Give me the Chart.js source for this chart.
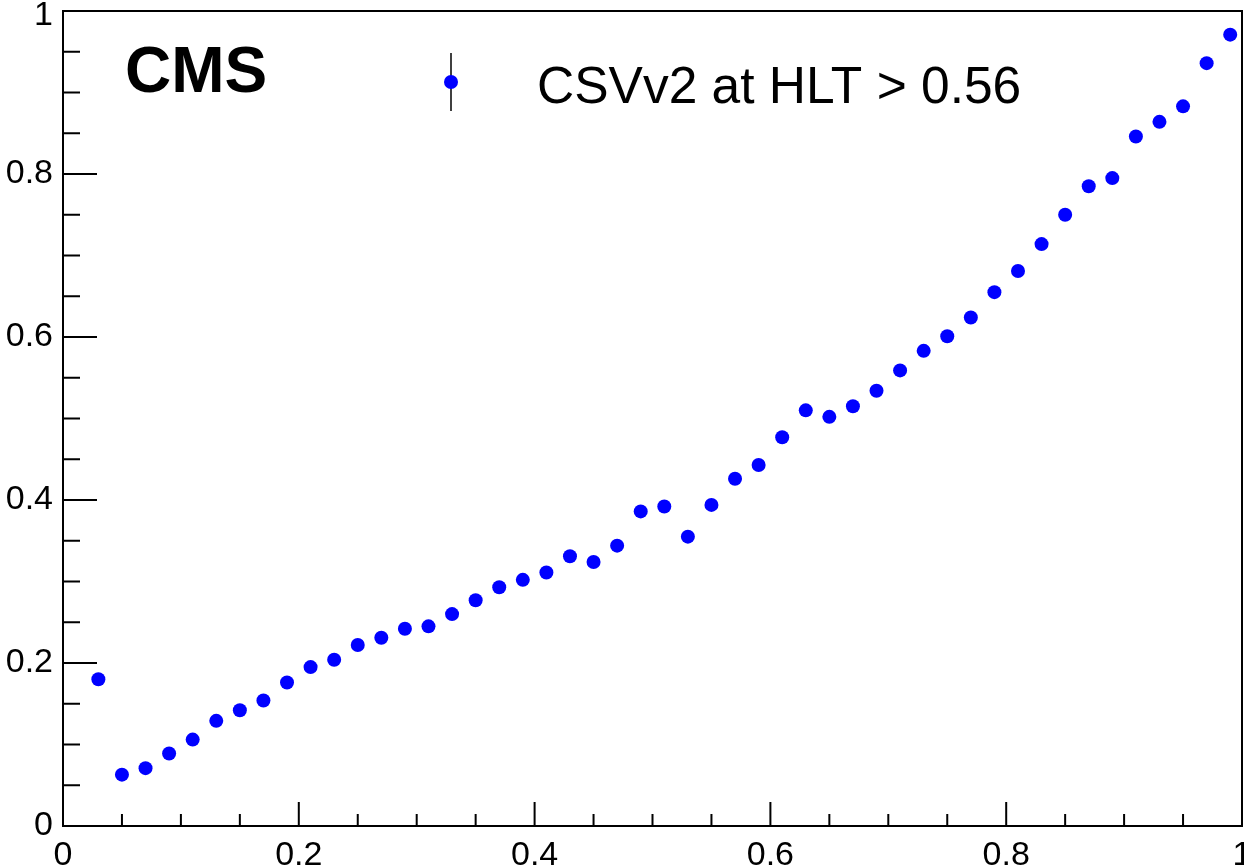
<!DOCTYPE html>
<html>
<head>
<meta charset="utf-8">
<script src="https://cdn.jsdelivr.net/npm/chart.js@4"></script>
<style>
  html, body { margin: 0; padding: 0; background: #fff; }
</style>
</head>
<body>
<canvas id="chart" width="1244" height="868"></canvas>
<script>
// bin centres and efficiency
const binCenters = [
  0.03, 0.05, 0.07, 0.09, 0.11, 0.13, 0.15, 0.17, 0.19, 0.21,
  0.23, 0.25, 0.27, 0.29, 0.31, 0.33, 0.35, 0.37, 0.39, 0.41,
  0.43, 0.45, 0.47, 0.49, 0.51, 0.53, 0.55, 0.57, 0.59, 0.61,
  0.63, 0.65, 0.67, 0.69, 0.71, 0.73, 0.75, 0.77, 0.79, 0.81,
  0.83, 0.85, 0.87, 0.89, 0.91, 0.93, 0.95, 0.97, 0.99
];
const efficiency = [
  0.180, 0.063, 0.071, 0.089, 0.106, 0.129, 0.142, 0.154, 0.176, 0.195,
  0.204, 0.222, 0.231, 0.242, 0.245, 0.260, 0.277, 0.293, 0.302, 0.311,
  0.331, 0.324, 0.344, 0.386, 0.392, 0.355, 0.394, 0.426, 0.443, 0.477,
  0.510, 0.502, 0.515, 0.534, 0.559, 0.583, 0.601, 0.624, 0.655, 0.681,
  0.714, 0.750, 0.785, 0.795, 0.846, 0.864, 0.883, 0.936, 0.971
];
const tickLabels = ["0", "0.2", "0.4", "0.6", "0.8", "1"];
const legendText = "CSVv2 at HLT > 0.56";
const cmsText = "CMS";

const FONT = "'Liberation Sans', Arial, Helvetica, sans-serif";

const rootStyle = {
  id: "rootStyle",
  afterDraw(chart) {
    const ctx = chart.ctx;
    const a = chart.chartArea;
    const x = chart.scales.x;
    const y = chart.scales.y;
    ctx.save();
    ctx.strokeStyle = "#000";
    ctx.lineWidth = 2;
    ctx.strokeRect(a.left, a.top, a.right - a.left, a.bottom - a.top);

    // inward ticks like ROOT
    ctx.beginPath();
    for (let i = 0; i <= 20; i++) {
      const v = i / 20;
      const px = x.getPixelForValue(v);
      const py = y.getPixelForValue(v);
      const major = i % 4 === 0;
      ctx.moveTo(px, a.bottom);
      ctx.lineTo(px, a.bottom - (major ? 24 : 12));
      ctx.moveTo(a.left, py);
      ctx.lineTo(a.left + (major ? 34 : 17), py);
    }
    ctx.stroke();

    // top y label is pushed down to stay inside the canvas, as ROOT does
    ctx.fillStyle = "#000";
    ctx.font = "34px " + FONT;
    ctx.textAlign = "right";
    ctx.textBaseline = "middle";
    ctx.fillText(tickLabels[tickLabels.length - 1], a.left - 10, y.getPixelForValue(1) + 5);

    // CMS label
    ctx.textBaseline = "alphabetic";
    ctx.textAlign = "left";
    ctx.font = "bold 64px " + FONT;
    ctx.fillText(cmsText, 125, 92);

    // legend entry: marker with error bar
    ctx.lineWidth = 1.5;
    ctx.beginPath();
    ctx.moveTo(451, 53);
    ctx.lineTo(451, 111);
    ctx.stroke();
    ctx.fillStyle = "#0000ff";
    ctx.beginPath();
    ctx.arc(451, 82, 7, 0, Math.PI * 2);
    ctx.fill();
    ctx.fillStyle = "#000";
    ctx.font = "51.5px " + FONT;
    ctx.fillText(legendText, 537, 103);
    ctx.restore();
  }
};

const ctx = document.getElementById("chart").getContext("2d");

const chart = new Chart(ctx, {
  type: "scatter",
  data: {
    datasets: [{
      label: legendText,
      data: binCenters.map((v, i) => ({ x: v, y: efficiency[i] })),
      pointRadius: 7,
      pointHoverRadius: 7,
      pointBorderWidth: 0,
      pointBackgroundColor: "#0000ff",
      showLine: false
    }]
  },
  options: {
    responsive: false,
    animation: false,
    devicePixelRatio: 1,
    layout: { autoPadding: false, padding: { top: 11, right: 2, left: 0, bottom: 0 } },
    plugins: {
      legend: { display: false },
      tooltip: { enabled: false }
    },
    scales: {
      x: {
        type: "linear",
        min: 0,
        max: 1,
        grid: { display: false, drawTicks: false },
        border: { display: false },
        ticks: {
          stepSize: 0.2,
          padding: 9,
          color: "#000",
          font: { family: FONT, size: 34 },
          maxRotation: 0,
          callback: (v) => tickLabels[Math.round(v * 5)]
        },
        afterFit: (s) => { s.height = 42; s.paddingLeft = 0; s.paddingRight = 0; }
      },
      y: {
        type: "linear",
        min: 0,
        max: 1,
        grid: { display: false, drawTicks: false },
        border: { display: false },
        ticks: {
          stepSize: 0.2,
          padding: 10,
          color: "#000",
          font: { family: FONT, size: 34 },
          // the "1" is drawn by the plugin
          callback: (v) => (v >= 1 ? "" : tickLabels[Math.round(v * 5)])
        },
        afterFit: (s) => { s.width = 63; s.paddingTop = 0; s.paddingBottom = 0; }
      }
    }
  },
  plugins: [rootStyle]
});
</script>
</body>
</html>
